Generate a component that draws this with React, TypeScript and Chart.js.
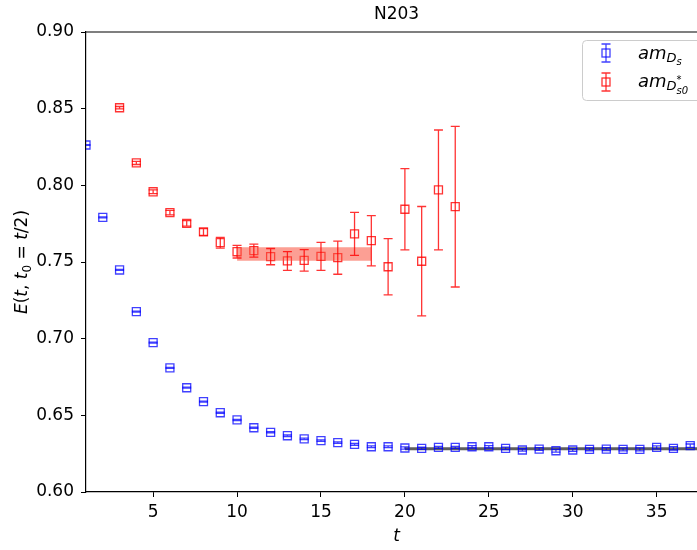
import React, { useEffect, useRef } from 'react';
import { Chart, registerables } from 'chart.js';

Chart.register(...registerables);

// ---------- data ----------
const tBlue = [1, 2, 3, 4, 5, 6, 7, 8, 9, 10, 11, 12, 13, 14, 15, 16, 17, 18, 19, 20, 21, 22, 23, 24, 25, 26, 27, 28, 29, 30, 31, 32, 33, 34, 35, 36, 37];
const blueE = [0.8263, 0.7791, 0.7448, 0.7176, 0.6974, 0.681, 0.668, 0.659, 0.6517, 0.647, 0.6419, 0.6389, 0.6367, 0.6346, 0.6335, 0.6322, 0.6311, 0.6295, 0.6295, 0.6287, 0.6285, 0.6291, 0.6291, 0.6295, 0.6295, 0.6285, 0.6274, 0.628, 0.6269, 0.6274, 0.6278, 0.628, 0.6278, 0.6278, 0.6291, 0.6285, 0.6302];
const blueErr = [0.0003, 0.0003, 0.0003, 0.0003, 0.0003, 0.0003, 0.0003, 0.0003, 0.0004, 0.0004, 0.0004, 0.0004, 0.0005, 0.0005, 0.0005, 0.0005, 0.0006, 0.0006, 0.0006, 0.0007, 0.0007, 0.0007, 0.0007, 0.0008, 0.0008, 0.0008, 0.0008, 0.0009, 0.0009, 0.0009, 0.0009, 0.001, 0.001, 0.001, 0.001, 0.0011, 0.0011];

const tRed = [3, 4, 5, 6, 7, 8, 9, 10, 11, 12, 13, 14, 15, 16, 17, 18, 19, 20, 21, 22, 23];
const redE = [0.8506, 0.8146, 0.7958, 0.7822, 0.7752, 0.7696, 0.7626, 0.7567, 0.7574, 0.7535, 0.7507, 0.7511, 0.7537, 0.7528, 0.7683, 0.7639, 0.7469, 0.7844, 0.7505, 0.797, 0.7861];
const redErr = [0.0008, 0.001, 0.0012, 0.0015, 0.0018, 0.0022, 0.0035, 0.0041, 0.0042, 0.0053, 0.0061, 0.007, 0.0091, 0.0108, 0.014, 0.0164, 0.0184, 0.0265, 0.0357, 0.0391, 0.0524];

const redFitRange = [10, 18];
const redFitValue = 0.7552;
const redFitErr = 0.0044;

const blueFitRange = [20, 38];
const blueFitValue = 0.6282;

const xTicks = [5, 10, 15, 20, 25, 30, 35];
const yTicks = [0.6, 0.65, 0.7, 0.75, 0.8, 0.85, 0.9];

const titleText = 'N203';

// ---------- style ----------
const FONT = "'DejaVu Sans', sans-serif";
const BLUE = 'rgba(0,0,255,0.75)';
const RED = 'rgba(255,0,0,0.8)';

function font(size: number, italic: boolean) {
  return `${italic ? 'italic ' : ''}${size}px ${FONT}`;
}

type Piece = { t: string; size: number; it: boolean; dy: number; resetX?: boolean };

function drawRich(ctx: CanvasRenderingContext2D, x: number, y: number, pieces: Piece[], measureOnly = false) {
  let cx = x;
  let lastStart = x;
  let maxX = x;
  for (const p of pieces) {
    ctx.font = font(p.size, p.it);
    const startX = p.resetX ? lastStart : cx;
    if (!measureOnly) ctx.fillText(p.t, startX, y + p.dy);
    const w = ctx.measureText(p.t).width;
    if (!p.resetX) lastStart = startX;
    cx = startX + w;
    maxX = Math.max(maxX, cx);
  }
  return maxX - x;
}

function drawMarker(ctx: CanvasRenderingContext2D, x: number, y: number, color: string) {
  ctx.save();
  ctx.strokeStyle = color;
  ctx.lineWidth = 1.3;
  ctx.beginPath();
  ctx.moveTo(x, y - 9);
  ctx.lineTo(x, y + 9);
  ctx.moveTo(x - 4.5, y - 9);
  ctx.lineTo(x + 4.5, y - 9);
  ctx.moveTo(x - 4.5, y + 9);
  ctx.lineTo(x + 4.5, y + 9);
  ctx.stroke();
  ctx.strokeRect(x - 4, y - 4, 8, 8);
  ctx.restore();
}

const errorBarPlugin = {
  id: 'errorBars',
  afterDatasetsDraw(chart: any) {
    const { ctx, chartArea } = chart;
    const xs = chart.scales.x;
    const ys = chart.scales.y;
    ctx.save();
    ctx.beginPath();
    ctx.rect(chartArea.left, chartArea.top, chartArea.right - chartArea.left, chartArea.bottom - chartArea.top);
    ctx.clip();
    chart.data.datasets.forEach((ds: any) => {
      if (!ds.errors) return;
      ctx.strokeStyle = ds.errColor;
      ctx.lineWidth = 1.3;
      ds.data.forEach((p: any, j: number) => {
        const px = xs.getPixelForValue(p.x);
        const y1 = ys.getPixelForValue(p.y - ds.errors[j]);
        const y2 = ys.getPixelForValue(p.y + ds.errors[j]);
        ctx.beginPath();
        ctx.moveTo(px, y1);
        ctx.lineTo(px, y2);
        ctx.moveTo(px - 4.5, y1);
        ctx.lineTo(px + 4.5, y1);
        ctx.moveTo(px - 4.5, y2);
        ctx.lineTo(px + 4.5, y2);
        ctx.stroke();
      });
    });
    ctx.restore();
  },
};

const decorPlugin = {
  id: 'decor',
  afterDraw(chart: any) {
    const { ctx, chartArea } = chart;
    ctx.save();
    // top spine
    ctx.strokeStyle = '#000';
    ctx.lineWidth = 1.2;
    ctx.beginPath();
    ctx.moveTo(chartArea.left, chartArea.top);
    ctx.lineTo(chartArea.right, chartArea.top);
    ctx.stroke();

    ctx.fillStyle = '#000';
    ctx.textBaseline = 'alphabetic';
    // title
    ctx.font = font(17, false);
    ctx.textAlign = 'center';
    ctx.fillText(titleText, (chartArea.left + chartArea.right) / 2, 19);

    // x label
    ctx.font = font(17, true);
    ctx.fillText('t', (chartArea.left + chartArea.right) / 2, 541);

    // y label
    ctx.textAlign = 'left';
    const yl: Piece[] = [
      { t: 'E', size: 17, it: true, dy: 0 },
      { t: '(', size: 17, it: false, dy: 0 },
      { t: 't', size: 17, it: true, dy: 0 },
      { t: ', ', size: 17, it: false, dy: 0 },
      { t: 't', size: 17, it: true, dy: 0 },
      { t: '0', size: 12, it: false, dy: 3.5 },
      { t: ' = ', size: 17, it: false, dy: 0 },
      { t: 't', size: 17, it: true, dy: 0 },
      { t: '/2)', size: 17, it: false, dy: 0 },
    ];
    const w = drawRich(ctx, 0, 0, yl, true);
    ctx.save();
    ctx.translate(27, (chartArea.top + chartArea.bottom) / 2);
    ctx.rotate(-Math.PI / 2);
    drawRich(ctx, -w / 2, 0, yl);
    ctx.restore();

    // legend
    const lx = 582.5;
    const ly = 40.5;
    ctx.save();
    ctx.fillStyle = 'rgba(255,255,255,0.8)';
    ctx.strokeStyle = 'rgb(204,204,204)';
    ctx.lineWidth = 1;
    ctx.beginPath();
    (ctx as any).roundRect(lx, ly, 160, 60, 4);
    ctx.fill();
    ctx.stroke();
    ctx.restore();

    drawMarker(ctx, 606, 53, BLUE);
    drawMarker(ctx, 606, 82, RED);
    ctx.fillStyle = '#000';
    drawRich(ctx, 638, 59, [
      { t: 'am', size: 18, it: true, dy: 0 },
      { t: 'D', size: 13, it: true, dy: 2.5 },
      { t: 's', size: 10, it: true, dy: 5.5 },
    ]);
    drawRich(ctx, 638, 87, [
      { t: 'am', size: 18, it: true, dy: 0 },
      { t: 'D', size: 13, it: true, dy: 2.5 },
      { t: '*', size: 10, it: false, dy: -4.5 },
      { t: 's0', size: 10, it: true, dy: 6.5, resetX: true },
    ]);
    ctx.restore();
  },
};

export default function App() {
  const canvasRef = useRef<HTMLCanvasElement | null>(null);

  useEffect(() => {
    const canvas = canvasRef.current;
    if (!canvas) return;
    const chart = new Chart(canvas, {
      type: 'scatter',
      data: {
        datasets: [
          {
            type: 'line',
            data: [
              { x: redFitRange[0], y: redFitValue + redFitErr },
              { x: redFitRange[1], y: redFitValue + redFitErr },
            ],
            borderWidth: 0,
            borderColor: 'rgba(0,0,0,0)',
            pointRadius: 0,
            fill: false,
          } as any,
          {
            type: 'line',
            data: [
              { x: redFitRange[0], y: redFitValue - redFitErr },
              { x: redFitRange[1], y: redFitValue - redFitErr },
            ],
            borderWidth: 0,
            borderColor: 'rgba(0,0,0,0)',
            pointRadius: 0,
            fill: '-1',
            backgroundColor: 'rgba(250,80,60,0.55)',
          } as any,
          {
            type: 'scatter',
            data: tRed.map((t, i) => ({ x: t, y: redE[i] })),
            errors: redErr,
            errColor: RED,
            pointStyle: 'rect',
            pointRadius: 5.66,
            pointBorderWidth: 1.3,
            pointBorderColor: RED,
            pointBackgroundColor: 'rgba(0,0,0,0)',
          } as any,
          {
            type: 'scatter',
            data: tBlue.map((t, i) => ({ x: t, y: blueE[i] })),
            errors: blueErr,
            errColor: BLUE,
            pointStyle: 'rect',
            pointRadius: 5.66,
            pointBorderWidth: 1.3,
            pointBorderColor: BLUE,
            pointBackgroundColor: 'rgba(0,0,0,0)',
          } as any,
          {
            type: 'line',
            data: [
              { x: blueFitRange[0], y: blueFitValue },
              { x: blueFitRange[1], y: blueFitValue },
            ],
            borderWidth: 3,
            borderColor: 'rgba(40,40,40,0.75)',
            pointRadius: 0,
            fill: false,
          } as any,
        ],
      },
      options: {
        responsive: false,
        animation: false,
        events: [],
        layout: { padding: { top: 32, right: 13, left: 0, bottom: 0 } },
        plugins: {
          legend: { display: false },
          tooltip: { enabled: false },
          title: { display: false },
        },
        scales: {
          x: {
            type: 'linear',
            min: 1,
            max: 38,
            afterBuildTicks: (s: any) => {
              s.ticks = xTicks.map((v) => ({ value: v }));
            },
            afterFit: (s: any) => {
              s.height = 58;
            },
            grid: { display: true, drawOnChartArea: false, drawTicks: true, tickLength: 5, color: '#000', lineWidth: 1 },
            border: { display: true, color: '#000', width: 1.2 },
            ticks: {
              font: { family: FONT, size: 17 },
              color: '#000',
              padding: 5,
              maxRotation: 0,
              autoSkip: false,
              callback: (v: any) => String(v),
            },
          },
          y: {
            type: 'linear',
            min: 0.6,
            max: 0.9,
            afterBuildTicks: (s: any) => {
              s.ticks = yTicks.map((v) => ({ value: v }));
            },
            afterFit: (s: any) => {
              s.width = 86;
            },
            grid: { display: true, drawOnChartArea: false, drawTicks: true, tickLength: 5, color: '#000', lineWidth: 1 },
            border: { display: true, color: '#000', width: 1.2 },
            ticks: {
              font: { family: FONT, size: 17 },
              color: '#000',
              padding: 7,
              autoSkip: false,
              callback: (v: any) => Number(v).toFixed(2),
            },
          },
        },
      } as any,
      plugins: [errorBarPlugin, decorPlugin],
    });
    return () => chart.destroy();
  }, []);

  return (
    <div style={{ position: 'fixed', left: 0, top: 0, width: 697, height: 550, overflow: 'hidden', background: '#fff' }}>
      <canvas ref={canvasRef} width={720} height={550} style={{ display: 'block', width: 720, height: 550 }} />
    </div>
  );
}
